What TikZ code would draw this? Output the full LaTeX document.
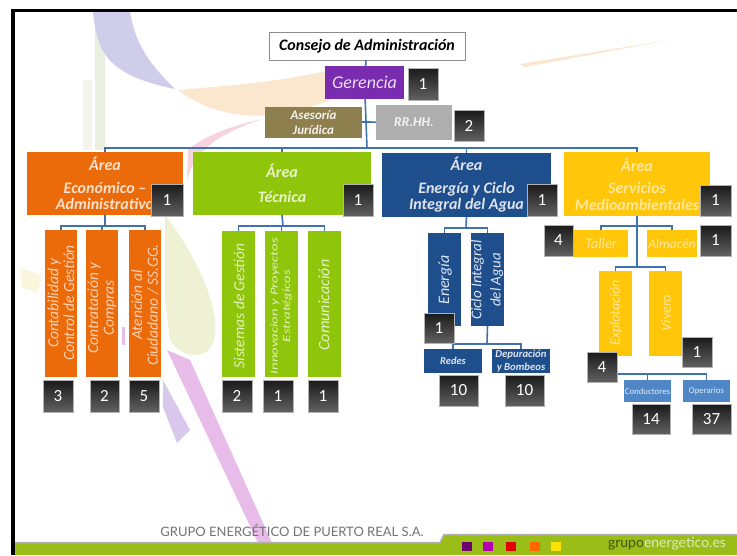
\documentclass[tikz,border=0pt]{standalone}
\usepackage{fontspec}
\setmainfont{Carlito}
\newfontfamily\footfont{Lato}
\definecolor{cOr}{HTML}{EB6A0A}
\definecolor{cGr}{HTML}{8FC50A}
\definecolor{cBl}{HTML}{1F4E8C}
\definecolor{cYe}{HTML}{FFC60A}
\definecolor{cPu}{HTML}{7A2CB0}
\definecolor{cOl}{HTML}{8E7F4E}
\definecolor{cGy}{HTML}{AEAEAE}
\definecolor{cLn}{HTML}{3F72B0}
\definecolor{cLb}{HTML}{4F86C6}
\definecolor{cBand}{HTML}{9ABD18}
\definecolor{dViolet}{HTML}{D0CDEB}
\definecolor{dPeach}{HTML}{FBE6CE}
\definecolor{dStripe}{HTML}{EBEFDF}
\definecolor{dStripeB}{HTML}{F3F5EC}
\definecolor{dPink}{HTML}{F6D3DE}
\definecolor{dLeaf}{HTML}{EEF1D4}
\definecolor{dLilac}{HTML}{E8BCE8}
\definecolor{dViolB}{HTML}{D8C8EC}
\definecolor{dYel}{HTML}{FBF7DE}
\newcommand{\fsz}[1]{\fontsize{#1}{\dimexpr #1pt*115/100\relax}\selectfont}
\tikzset{
  bx/.style={rectangle,inner sep=0pt,outer sep=0pt,draw=none},
  lab/.style={inner sep=0pt,outer sep=0pt,align=center,font=\fsz{#1}\bfseries\itshape},
  vlab/.style={inner sep=0pt,outer sep=0pt,align=center,rotate=90,font=\fsz{#1}\itshape},
  badge/.style={rectangle,inner sep=0pt,outer sep=0pt,draw=white!70!black,line width=.5pt,
    top color=black!90,bottom color=black!62,text=white,font=\fsz{#1}},
  conn/.style={draw=cLn,line width=1.6pt},
}
% \bx{name}{x1}{y1}{x2}{y2}{style}{text}
\newcommand{\bxn}[7]{\node[bx,#6,minimum width={(#4-#2)*1pt},minimum height={(#5-#3)*1pt}] (#1) at ({(#2+#4)/2},{(#3+#5)/2}) {#7};}
% badge: name x1 y1 x2 y2 size text
\newcommand{\bdg}[7]{\node[badge=#6,minimum width={(#4-#2)*1pt},minimum height={(#5-#3)*1pt}] (#1) at ({(#2+#4)/2},{(#3+#5)/2}) {#7};}
\begin{document}
\begin{tikzpicture}[x=1pt,y=-1pt]
\useasboundingbox (0,0) rectangle (737,555);
\fill[white] (0,0) rectangle (737,555);
% background decoration
\fill[dStripe] (95,12) rectangle (105,150);
\fill[dStripeB] (83,80) rectangle (92,150);
\fill[dViolet] (93,12) .. controls (97,50) and (105,75) .. (175,89) .. controls (145,60) and (135,40) .. (130,12) -- cycle;
\fill[dPeach] (178,90) .. controls (240,85) and (290,80) .. (330,70) -- (330,100) .. controls (280,120) and (225,125) .. (178,90) -- cycle;
\fill[dPeach] (520,64) -- (670,40) -- (525,67) -- cycle;
\fill[dPink] (262,119) .. controls (220,133) and (195,150) .. (187,180) -- (188,150) .. controls (205,135) and (235,125) .. (262,119) -- cycle;
\fill[dLeaf] (165,215) .. controls (200,260) and (225,320) .. (212,345) .. controls (205,360) and (180,358) .. (170,340) -- (165,300) -- cycle;
\fill[dYel] (20,268) -- (42,275) -- (38,292) -- (22,288) -- cycle;
\fill[dViolB] (163,380) -- (190,430) -- (177,443) -- (163,407) -- cycle;
\fill[dLilac] (167,350) -- (190,360) -- (272,543) -- (258,543) -- cycle;
\fill[dLilac] (122,327) rectangle (125,345);
% frame
\fill[black] (11,9) rectangle (737,12);
\fill[black] (11,9) rectangle (15,555);
% footer
\fill[cBand] (15,543) -- (440,543) -- (444,535) -- (737,535) -- (737,555) -- (15,555) -- cycle;
\draw[black!30,line width=1.5pt] (15,542.5) -- (440,542.5) -- (444,534.5) -- (737,534.5);
\node[inner sep=0pt,text=black!55,font=\footfont\fsz{13}] (foot) at (292,531) {GRUPO ENERGÉTICO DE PUERTO REAL S.A.};
\bxn{s1}{462}{542}{472}{551}{fill=violet!85!black}{}
\bxn{s2}{483}{542}{493}{551}{fill=violet!60!magenta}{}
\bxn{s3}{506}{542}{516}{551}{fill=red!90!black}{}
\bxn{s4}{530}{542}{540}{551}{fill=orange!80!red}{}
\bxn{s5}{551}{542}{561}{551}{fill=yellow!85!orange}{}
\node[inner sep=0pt,font=\footfont\fsz{14},text=black!55!cBand] (web) at (667,544) {grupo\textcolor{white!70!cBand}{energetico.es}};
% junctions
\coordinate (jtop) at (367,148);
\coordinate (jside) at (367,122);
\coordinate (jor) at (105,226);
\coordinate (jgr) at (283,226);
\coordinate (jbl) at (466,228);
\coordinate (jci) at (487,344);
\coordinate (jye) at (637,226);
\coordinate (jye2) at (637,267);
\coordinate (jex) at (617,374);
% boxes
\node[bx,fill=white,draw=black!45,line width=.8pt,minimum width=196pt,minimum height=28pt,font=\fsz{16}\bfseries\itshape] (con) at (367,46) {Consejo de Administración};
\bxn{ger}{325}{66}{404}{99}{fill=cPu,text=white!85!cPu,font=\fsz{18}\itshape}{Gerencia}
\bxn{ase}{265}{107}{362}{138}{fill=cOl,lab=13,text=white!90!cOl}{Asesoría\\Jurídica}
\bxn{rrh}{376}{105}{452}{140}{fill=cGy,lab=13.5,text=white!85!cGy}{RR.HH.}
\bxn{a1}{27}{152}{183}{215}{fill=cOr,lab=16,text=white!80!cOr}{Área\\[4pt]Económico --\\[-2pt]Administrativo}
\bxn{a2}{193}{152}{371}{215}{fill=cGr,lab=16,text=white!80!cGr}{Área\\[6pt]Técnica}
\bxn{a3}{382}{153}{551}{217}{fill=cBl,lab=16,text=white!85!cBl}{Área\\[4pt]Energía y Ciclo\\[-2pt]Integral del Agua}
\bxn{a4}{564}{152}{710}{216}{fill=cYe,lab=16,text=white!60!cYe}{Área\\[4pt]Servicios\\[-2pt]Medioambientales}
% connectors
\draw[conn] (con) -- (ger) -- (jtop);
\draw[conn] (ase) -- (jside) -- (rrh);
\draw[conn] (a1.north) |- (jtop) -| (a4.north);
\draw[conn] (a2.north) -- (a2.north |- jtop);
\draw[conn] (a3.north) -- (a3.north |- jtop);
% sub boxes
\bxn{o1}{45}{230}{77}{377}{fill=cOr}{}
\bxn{o2}{86}{230}{118}{377}{fill=cOr}{}
\bxn{o3}{129}{230}{161}{377}{fill=cOr}{}
\bxn{g1}{222}{231}{255}{377}{fill=cGr}{}
\bxn{g2}{265}{231}{298}{377}{fill=cGr}{}
\bxn{g3}{308}{231}{341}{377}{fill=cGr}{}
\bxn{b1}{428}{233}{461}{326}{fill=cBl}{}
\bxn{b2}{471}{233}{504}{326}{fill=cBl}{}
\bxn{r1}{424}{349}{482}{373}{fill=cBl,lab=10.5,text=white!85!cBl}{Redes}
\bxn{r2}{492}{349}{550}{373}{fill=cBl,lab=10.7,text=white!85!cBl}{Depuración\\y Bombeos}
\bxn{y1}{574}{230}{628}{257}{fill=cYe,font=\fsz{14.5}\itshape,text=white!60!cYe}{Taller}
\bxn{y2}{647}{230}{697}{257}{fill=cYe,font=\fsz{13.5}\itshape,text=white!60!cYe}{Almacén}
\bxn{y3}{599}{271}{632}{356}{fill=cYe}{}
\bxn{y4}{649}{271}{682}{356}{fill=cYe}{}
\bxn{l1}{624}{380}{671}{402}{fill=cLb,font=\fsz{8.8},text=white!85!cLb}{Conductores}
\bxn{l2}{683}{380}{730}{402}{fill=cLb,font=\fsz{8.8},text=white!85!cLb}{Operarios}
% rotated labels
\node[vlab=15.5,text=white!70!cOr] (o1t) at (61,303) {Contabilidad y\\[-2pt]Control de Gestión};
\node[vlab=15.5,text=white!70!cOr] (o2t) at (102,308) {Contratación y\\[-2pt]Compras};
\node[vlab=15.5,text=white!70!cOr] (o3t) at (145,305) {Atención al\\[-2pt]Ciudadano / SS.GG.};
\node[vlab=15.5,text=white!75!cGr] (g1t) at (239,306) {Sistemas de Gestión};
\node[vlab=10.5,xscale=1.4,transform shape,text=white!75!cGr] (g2t) at (281,306) {Innovacion y Proyectos\\Estratégicos};
\node[vlab=16,text=white!75!cGr] (g3t) at (324,305) {Comunicación};
\node[vlab=16,text=white!85!cBl] (b1t) at (445,280) {Energía};
\node[vlab=15,text=white!85!cBl] (b2t) at (487,280) {Ciclo Integral\\[2pt]del Agua};
\node[vlab=14,text=white!60!cYe] (y3t) at (616,313) {Explotación};
\node[vlab=14,text=white!60!cYe] (y4t) at (666,313) {Vivero};
% connectors lower
\draw[conn] (a1.south) -- (jor);
\draw[conn] (o1.north) |- (jor) -| (o3.north);
\draw[conn] (o2.north) -- (o2.north |- jor);
\draw[conn] (a2.south) -- (jgr);
\draw[conn] (g1.north) |- (jgr) -| (g3.north);
\draw[conn] (g2.north) -- (jgr -| g2.north);
\draw[conn] (a3.south) -- (jbl);
\draw[conn] (b1.north) |- (jbl) -| (b2.north);
\draw[conn] (b2.south) -- (jci);
\draw[conn] (r1.north) |- (jci) -| (r2.north);
\draw[conn] (a4.south) -- (jye2);
\draw[conn] (y1.north) |- (jye) -| (y2.north);
\draw[conn] (y3.north) |- (jye2) -| (y4.north);
\draw[conn] (y3.south) -- (y3.south |- jex);
\draw[conn] (jex) -| (l2.north);
\draw[conn] (l1.north) -- (l1.north |- jex);
% badges
\bdg{n1}{408}{68}{438}{100}{17}{1}
\bdg{n2}{454}{110}{484}{141}{17}{2}
\bdg{n3}{151}{184}{183}{216}{17}{1}
\bdg{n4}{343}{184}{373}{216}{17}{1}
\bdg{n5}{527}{184}{557}{216}{17}{1}
\bdg{n6}{700}{185}{731}{216}{17}{1}
\bdg{n7}{43}{380}{73}{412}{17}{3}
\bdg{n8}{90}{380}{119}{412}{17}{2}
\bdg{n9}{129}{380}{159}{412}{17}{5}
\bdg{n10}{222}{380}{252}{412}{17}{2}
\bdg{n11}{263}{380}{293}{412}{17}{1}
\bdg{n12}{308}{380}{338}{412}{17}{1}
\bdg{n13}{424}{313}{454}{343}{17}{1}
\bdg{n14}{439}{375}{478}{406}{17}{10}
\bdg{n15}{505}{375}{544}{406}{17}{10}
\bdg{n16}{544}{225}{573}{256}{17}{4}
\bdg{n17}{700}{225}{731}{256}{17}{1}
\bdg{n18}{682}{337}{712}{367}{17}{1}
\bdg{n19}{587}{352}{617}{382}{17}{4}
\bdg{n20}{632}{404}{670}{434}{17}{14}
\bdg{n21}{692}{404}{731}{434}{17}{37}
\end{tikzpicture}
\end{document}
